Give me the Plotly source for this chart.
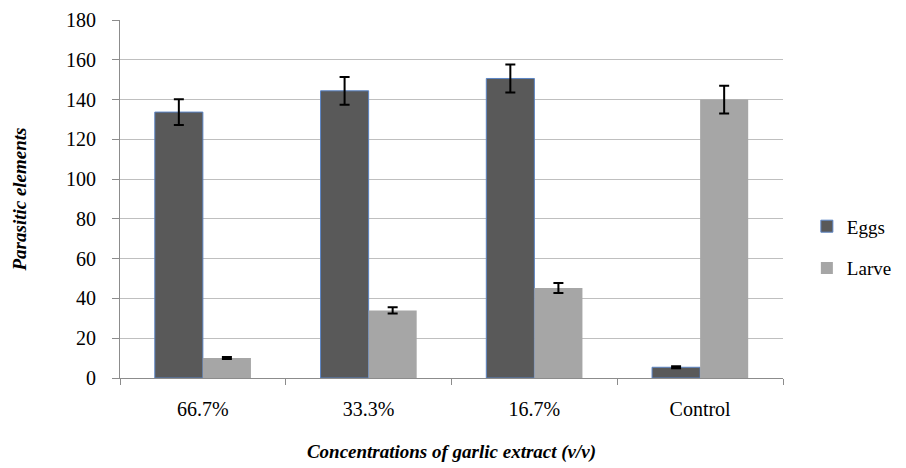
import plotly.graph_objects as go

categories = ["66.7%", "33.3%", "16.7%", "Control"]
eggs = [133.7, 144.4, 150.6, 5.4]
eggs_err = [6.5, 7.0, 7.0, 0.5]
larve = [10.0, 34.0, 45.3, 140.0]
larve_err = [0.5, 1.6, 2.5, 7.0]

fig = go.Figure()
fig.add_trace(go.Bar(
    x=categories, y=eggs, name="Eggs", legendgroup="a",
    marker=dict(color="#595959", line=dict(color="#5b84c4", width=1)),
    error_y=dict(type="data", array=eggs_err, color="black", thickness=2, width=5),
))
fig.add_trace(go.Bar(
    x=categories, y=larve, name="Larve", legendgroup="b",
    marker=dict(color="#a6a6a6", line=dict(width=0)),
    error_y=dict(type="data", array=larve_err, color="black", thickness=2, width=5),
))

font_family = "'Times New Roman', 'Liberation Serif', Tinos, 'DejaVu Serif', serif"
fig.update_layout(
    width=906, height=468,
    margin=dict(l=120, r=123, t=20, b=90, autoexpand=False),
    paper_bgcolor="white", plot_bgcolor="white",
    barmode="group", bargap=0.42, bargroupgap=0,
    font=dict(family=font_family, size=20, color="black"),
    showlegend=True,
    legend=dict(x=1.036, y=0.365, xanchor="left", yanchor="middle",
                font=dict(size=19), tracegroupgap=14, traceorder="grouped",
                itemwidth=30),
    xaxis=dict(
        automargin=False,
        showline=True, linecolor="#8c8c8c", linewidth=1,
        ticks="outside", tickson="boundaries", ticklen=6, tickcolor="#8c8c8c",
        tickfont=dict(size=20), ticklabelstandoff=13,
        title=dict(text="<b><i>Concentrations of garlic extract (v/v)</i></b>",
                   font=dict(size=19), standoff=25),
    ),
    yaxis=dict(
        automargin=False,
        range=[0, 180], dtick=20,
        showline=True, linecolor="#8c8c8c", linewidth=1,
        showgrid=True, gridcolor="#bfbfbf", gridwidth=1,
        ticks="outside", ticklen=7, tickcolor="#8c8c8c",
        tickfont=dict(size=20), ticklabelstandoff=12,
        zeroline=False,
        title=dict(text="<b><i>Parasitic elements</i></b>", font=dict(size=19), standoff=34),
    ),
)

fig.write_html("out.html", config={"displayModeBar": False},
               post_script="document.body.style.margin='0px';")
